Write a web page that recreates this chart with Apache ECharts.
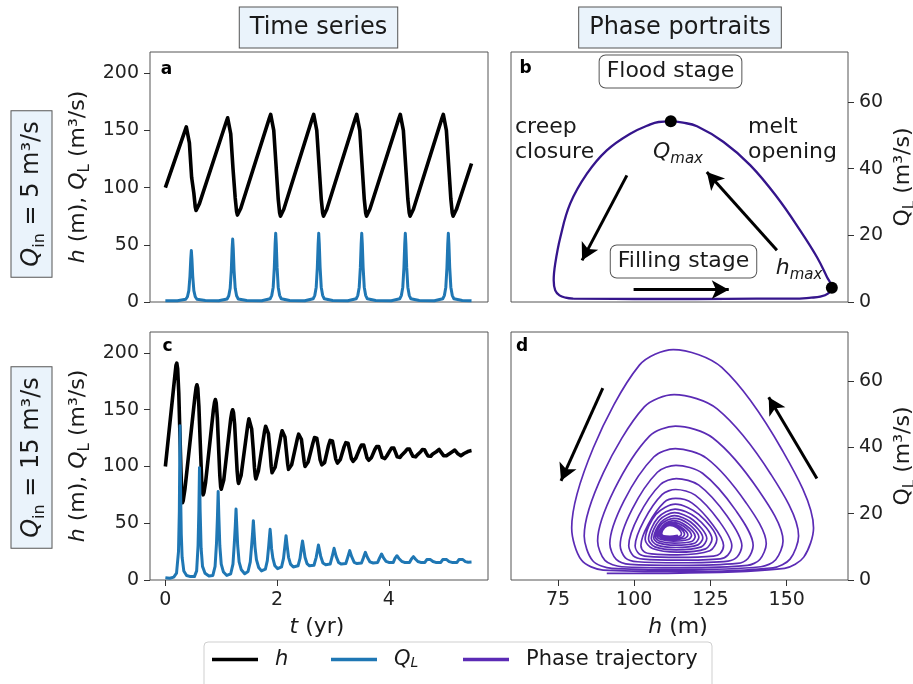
<!DOCTYPE html>
<html>
<head>
<meta charset="utf-8">
<title>Drainage cycles: time series and phase portraits</title>
<script src="https://cdn.jsdelivr.net/npm/echarts@6.0.0/dist/echarts.min.js"></script>
<style>
  html, body { margin: 0; padding: 0; background: #fff; }
  #chart { width: 913px; height: 684px; }
</style>
</head>
<body>
<div id="chart"></div>
<script>
// ---- values ----
// panel a: Q_in = 5 m3/s
var tAh = [0, 0.35, 0.375, 0.39, 0.405, 0.43, 0.47, 0.51, 0.535, 0.55, 0.57, 0.61,
  1.09, 1.115, 1.13, 1.145, 1.17, 1.21, 1.25, 1.275, 1.29, 1.31, 1.35,
  1.86, 1.885, 1.90, 1.915, 1.94, 1.98, 2.02, 2.045, 2.06, 2.08, 2.12,
  2.63, 2.655, 2.67, 2.685, 2.71, 2.75, 2.79, 2.815, 2.83, 2.85, 2.89,
  3.40, 3.425, 3.44, 3.455, 3.48, 3.52, 3.56, 3.585, 3.60, 3.62, 3.66,
  4.18, 4.205, 4.22, 4.235, 4.26, 4.30, 4.34, 4.365, 4.38, 4.40, 4.44,
  4.95, 4.975, 4.99, 5.005, 5.03, 5.07, 5.11, 5.135, 5.15, 5.17, 5.21, 5.48];
var hA = [100, 149.5, 153, 154, 151.5, 139, 109, 95, 83, 80, 81.5, 86,
  157.5, 161, 162, 159.5, 147, 117, 91, 79, 76, 77.5, 82,
  160.5, 164, 165, 162.5, 150, 120, 90, 78, 75, 76.5, 81,
  160.5, 164, 165, 162.5, 150, 120, 90, 78, 75, 76.5, 81,
  160.5, 164, 165, 162.5, 150, 120, 90, 78, 75, 76.5, 81,
  160.5, 164, 165, 162.5, 150, 120, 90, 78, 75, 76.5, 81,
  160.5, 164, 165, 162.5, 150, 120, 90, 78, 75, 76.5, 81, 121];
var tAq = [0, 0.215, 0.365, 0.395, 0.42, 0.44, 0.455, 0.465, 0.475, 0.49, 0.51, 0.535, 0.565, 0.715,
  0.955, 1.105, 1.135, 1.16, 1.18, 1.195, 1.205, 1.215, 1.23, 1.25, 1.275, 1.305, 1.455,
  1.725, 1.875, 1.905, 1.93, 1.95, 1.965, 1.975, 1.985, 2.00, 2.02, 2.045, 2.075, 2.225,
  2.495, 2.645, 2.675, 2.70, 2.72, 2.735, 2.745, 2.755, 2.77, 2.79, 2.815, 2.845, 2.995,
  3.265, 3.415, 3.445, 3.47, 3.49, 3.505, 3.515, 3.525, 3.54, 3.56, 3.585, 3.615, 3.765,
  4.045, 4.195, 4.225, 4.25, 4.27, 4.285, 4.295, 4.305, 4.32, 4.34, 4.365, 4.395, 4.545,
  4.815, 4.965, 4.995, 5.02, 5.04, 5.055, 5.065, 5.075, 5.09, 5.11, 5.135, 5.165, 5.315, 5.48];
var qA = [1.0, 1.1, 2.4, 4.6, 10, 22.5, 38, 45, 38, 22.5, 10, 4.6, 2.4, 1.3,
  1.1, 2.7, 5.4, 12, 27.5, 47, 55, 47, 27.5, 12, 5.4, 2.7, 1.3,
  1.1, 2.8, 5.8, 13, 30, 51, 60, 51, 30, 13, 5.8, 2.8, 1.3,
  1.1, 2.8, 5.8, 13, 30, 51, 60, 51, 30, 13, 5.8, 2.8, 1.3,
  1.1, 2.8, 5.8, 13, 30, 51, 60, 51, 30, 13, 5.8, 2.8, 1.3,
  1.1, 2.8, 5.8, 13, 30, 51, 60, 51, 30, 13, 5.8, 2.8, 1.3,
  1.1, 2.8, 5.8, 13, 30, 51, 60, 51, 30, 13, 5.8, 2.8, 1.3, 1.0];

// panel c: Q_in = 15 m3/s
var tCh = [0, 0.17, 0.19, 0.205, 0.22, 0.24, 0.26, 0.28, 0.295, 0.305, 0.32, 0.35,
  0.53, 0.55, 0.565, 0.58, 0.60, 0.625, 0.65, 0.665, 0.675, 0.69, 0.72,
  0.86, 0.88, 0.895, 0.91, 0.93, 0.955, 0.975, 0.99, 1.00, 1.015, 1.045,
  1.17, 1.19, 1.205, 1.22, 1.24, 1.265, 1.285, 1.30, 1.31, 1.325, 1.355,
  1.475, 1.495, 1.51, 1.525, 1.545, 1.575, 1.595, 1.61, 1.62, 1.635, 1.665,
  1.775, 1.795, 1.81, 1.825, 1.845, 1.875, 1.895, 1.91, 1.92, 1.935, 1.965,
  2.07, 2.09, 2.105, 2.12, 2.14, 2.165, 2.19, 2.205, 2.215, 2.23, 2.26,
  2.365, 2.385, 2.40, 2.415, 2.435, 2.46, 2.485, 2.50, 2.51, 2.525, 2.555,
  2.64, 2.67, 2.69, 2.71, 2.74, 2.77, 2.80, 2.82, 2.85,
  2.92, 2.95, 2.97, 2.99, 3.02, 3.05, 3.08, 3.10, 3.13,
  3.20, 3.23, 3.25, 3.27, 3.30, 3.33, 3.36, 3.38, 3.41,
  3.48, 3.51, 3.53, 3.55, 3.58, 3.61, 3.64, 3.66, 3.69,
  3.75, 3.78, 3.80, 3.82, 3.85, 3.88, 3.91, 3.93, 3.96,
  4.02, 4.05, 4.07, 4.09, 4.12, 4.15, 4.18, 4.20, 4.23,
  4.30, 4.33, 4.35, 4.37, 4.40, 4.43, 4.46, 4.48, 4.51,
  4.57, 4.60, 4.62, 4.64, 4.67, 4.70, 4.73, 4.75, 4.78,
  4.85, 4.88, 4.90, 4.92, 4.95, 4.98, 5.01, 5.03, 5.06,
  5.13, 5.16, 5.18, 5.20, 5.23, 5.26, 5.29, 5.31, 5.34, 5.38, 5.43, 5.48];
var hC = [100, 180, 189, 191, 186, 165, 130, 95, 74, 68, 70, 80,
  162, 169.5, 172, 169, 153, 120, 88, 77, 75, 77, 86,
  150, 156.5, 159, 156, 143, 114, 92, 82, 80, 81.5, 88,
  142, 148, 150, 147.5, 137, 114, 96, 87.5, 85, 86.5, 92,
  136.5, 142, 143.5, 141.5, 133, 114, 99, 91.5, 89, 90.5, 96,
  131, 135.5, 137, 135.5, 129, 113, 100, 94.5, 93, 94.5, 99.5,
  127.5, 131.5, 133, 131.5, 126, 114, 102, 97.5, 96, 97, 101.5,
  125, 128.5, 129.5, 128.5, 124, 114, 104, 100, 99, 100, 104,
  120.5, 125.5, 126.5, 125, 116.5, 106, 101.5, 101, 103.5,
  118.5, 123, 124, 122.5, 115, 106.5, 103, 103.5, 106,
  117.5, 121, 122, 120.5, 114, 107, 104.5, 105, 107.5,
  116, 119, 120, 119, 113.5, 107.5, 105.5, 106, 108,
  115, 117.5, 118.5, 117.5, 113, 108, 106.5, 107, 109,
  114, 116.3, 117, 116.2, 112.5, 108.5, 107.5, 108, 110,
  113.5, 115.4, 116, 115.3, 112, 109, 108, 108.5, 110.3,
  113, 115, 115.5, 114.8, 111.8, 109.3, 108.5, 109, 110.8,
  113, 114.5, 115, 114.3, 111.6, 109.6, 109, 109.5, 111,
  112.8, 114.1, 114.5, 113.9, 111.5, 110, 109.5, 110, 111.2, 112.3, 113.5, 114];
var tCq = [0, 0.08, 0.15, 0.20, 0.235, 0.25, 0.262, 0.272, 0.285, 0.30, 0.33, 0.38, 0.45,
  0.52, 0.56, 0.585, 0.60, 0.611, 0.622, 0.64, 0.665, 0.71, 0.78,
  0.85, 0.89, 0.915, 0.932, 0.945, 0.958, 0.975, 1.00, 1.04, 1.10,
  1.17, 1.21, 1.235, 1.252, 1.265, 1.278, 1.295, 1.32, 1.36, 1.42,
  1.48, 1.52, 1.545, 1.562, 1.575, 1.588, 1.605, 1.63, 1.67, 1.72,
  1.79, 1.825, 1.85, 1.863, 1.875, 1.887, 1.90, 1.925, 1.96, 2.01,
  2.08, 2.115, 2.14, 2.16, 2.18, 2.205, 2.24, 2.29,
  2.375, 2.41, 2.435, 2.455, 2.475, 2.50, 2.535, 2.58,
  2.66, 2.70, 2.74, 2.78, 2.82, 2.87,
  2.95, 2.985, 3.02, 3.055, 3.10, 3.15,
  3.23, 3.265, 3.30, 3.335, 3.38, 3.43,
  3.51, 3.545, 3.58, 3.615, 3.66, 3.72,
  3.80, 3.835, 3.87, 3.905, 3.95, 4.00,
  4.08, 4.11, 4.145, 4.18, 4.23, 4.28,
  4.37, 4.405, 4.44, 4.475, 4.52, 4.57,
  4.645, 4.68, 4.71, 4.745, 4.79, 4.84,
  4.93, 4.965, 5.00, 5.035, 5.08, 5.13,
  5.22, 5.255, 5.29, 5.325, 5.37, 5.42, 5.48];
var qC = [2, 1.5, 2.5, 6, 25, 60, 136, 80, 40, 20, 8, 4, 3,
  3, 8, 30, 62, 99, 62, 28, 12, 6, 3.5,
  4, 12, 32, 55, 78, 55, 30, 14, 7, 4,
  5.5, 14, 33, 48, 62.6, 48, 30, 16, 9, 5.5,
  7.5, 16, 31, 42, 52.3, 42, 29, 18, 11, 8,
  9.5, 17, 30, 38, 44.7, 38, 28, 19, 12.5, 10,
  11.5, 19, 30, 39, 30, 20, 14, 11.5,
  12.5, 19, 28, 34.4, 28, 20, 14.5, 12.5,
  13, 20, 30.9, 21, 15, 13.5,
  14, 20.5, 27.9, 21, 15.5, 14,
  14.5, 20, 25.9, 20.5, 15.5, 14.5,
  15, 19.5, 24.4, 20, 16, 15,
  15.5, 19.5, 22.9, 19.5, 16.5, 15.5,
  15.5, 19, 21.4, 19, 16.5, 15.5,
  15.5, 18.5, 20.6, 18.5, 16.3, 15.5,
  15.5, 18, 19.7, 18, 16.3, 15.5,
  15.5, 18, 19.1, 18, 16.2, 15.5,
  15.5, 18, 19.1, 18, 16.2, 15.6, 15.8];

// panel b: limit cycle (h, Q_L)
var bH = [80, 100, 120, 140, 152.3, 158, 161, 163.5, 164.8, 163.2, 159.9, 154.4, 146.8, 138.1, 129.3,
  120.6, 116, 112, 108, 105.3, 98.7, 91, 84.5, 79, 75.8, 74.1, 73.6, 74.1, 75.5, 77.5, 80];
var bQ = [1.0, 0.9, 0.9, 1.0, 1.0, 1.3, 1.6, 2.5, 4.3, 7.5, 13.5, 21.5, 31.5, 41, 48,
  52.7, 53.8, 54.2, 54, 53.3, 50.5, 45.5, 38.5, 29.5, 19.5, 11.5, 6.5, 3.5, 2, 1.3, 1.0];
var bDotH = [112, 164.8];   // Q_max, h_max
var bDotQ = [54.2, 4.3];
var arrowsB = [[[97.6, 38], [82.9, 12.5]], [[146.8, 15.5], [123.8, 39]], [[99.8, 3.7], [131, 3.7]]];

// panel d: damped spiral (h, Q_L)
var dH = [91,
  115, 149.3, 155.6, 158.8, 148.5, 128.7, 112.8, 101.7, 86.6, 79.5, 82.7, 89.8,
  115.2, 145.5, 151.1, 153.9, 144.8, 127.2, 113.1, 103.3, 89.9, 83.6, 86.4, 92.7,
  115.4, 141.5, 146.4, 148.8, 140.9, 125.7, 113.5, 105, 93.5, 88, 90.4, 95.9,
  115.1, 137.1, 141.2, 143.3, 136.6, 123.8, 113.5, 106.4, 96.6, 92, 94.1, 98.7,
  115, 133.8, 137.3, 139, 133.3, 122.4, 113.7, 107.6, 99.3, 95.4, 97.1, 101.1,
  114.9, 130.8, 133.8, 135.3, 130.5, 121.2, 113.8, 108.6, 101.5, 98.2, 99.7, 103,
  114.6, 128.2, 130.7, 132, 127.9, 120, 113.6, 109.2, 103.2, 100.3, 101.6, 104.4,
  114.4, 126, 128.2, 129.3, 125.8, 119, 113.6, 109.8, 104.6, 102.2, 103.3, 105.7,
  114.2, 124.8, 127.1, 121.2, 113.5, 107.1, 103.6, 106,
  114.1, 123.4, 125.5, 120.3, 113.4, 107.8, 104.7, 106.8,
  113.8, 122, 123.8, 119.3, 113.2, 108.3, 105.6, 107.4,
  113.6, 120.9, 122.5, 118.5, 113.2, 108.8, 106.4, 108,
  113.4, 119.8, 121.2, 117.7, 113, 109.1, 107, 108.4,
  113.2, 118.8, 120, 116.9, 112.8, 109.5, 107.6, 108.8,
  112.9, 117.7, 118.8, 116.1, 112.6, 109.7, 108.1, 109.2,
  112.6, 116.7, 117.6, 115.3, 112.3, 109.9, 108.5, 109.4,
  112.3, 115.7, 116.5, 114.6, 112, 110, 108.8, 109.6,
  111.9, 114.9, 115.5, 113.9, 111.7, 110, 109, 109.7, 111.7, 114.3];
var dQ = [2.0,
  2.1, 3.5, 6.9, 15.7, 39.2, 64.1, 69.5, 64.8, 39.9, 15.7, 6.0, 3.0,
  2.6, 3.7, 6.3, 13.3, 31.9, 51.6, 55.9, 52.2, 32.4, 13.3, 5.8, 3.5,
  3.1, 4.0, 6.1, 11.8, 26.9, 42.9, 46.4, 43.4, 27.3, 11.8, 5.9, 4.0,
  3.7, 4.4, 6.2, 10.9, 23.4, 36.7, 39.6, 37.1, 23.8, 10.9, 6.2, 4.7,
  4.4, 5.0, 6.5, 10.4, 21, 32.2, 34.6, 32.5, 21.3, 10.4, 6.7, 5.5,
  5.2, 5.7, 7.0, 10.3, 19.2, 28.6, 30.6, 28.8, 19.4, 10.3, 7.3, 6.3,
  6.0, 6.4, 7.5, 10.3, 17.7, 25.6, 27.3, 25.8, 17.9, 10.3, 7.9, 7.1,
  6.8, 7.2, 8.0, 10.4, 16.6, 23.2, 24.6, 23.4, 16.8, 10.4, 8.5, 7.9,
  7.6, 8.8, 12.2, 19.8, 22.9, 19.8, 12.2, 9.5,
  8.4, 9.4, 12.3, 18.8, 21.4, 18.8, 12.3, 10.0,
  9.1, 10.0, 12.5, 18.1, 20.3, 18.1, 12.5, 10.6,
  9.8, 10.6, 12.7, 17.5, 19.4, 17.5, 12.7, 11.2,
  10.5, 11.1, 12.9, 17, 18.6, 17, 12.9, 11.7,
  11.1, 11.6, 13.1, 16.5, 17.9, 16.5, 13.1, 12.2,
  11.7, 12.2, 13.4, 16.3, 17.4, 16.3, 13.4, 12.6,
  12.2, 12.6, 13.6, 16, 17, 16, 13.6, 12.9,
  12.6, 12.9, 13.8, 15.9, 16.7, 15.9, 13.8, 13.2,
  12.9, 13.2, 14.0, 15.8, 16.5, 15.8, 14, 13.3, 13.2, 13.5];
var arrowsD = [[[89.7, 57.9], [76, 29.9]], [[159.9, 30.6], [144.1, 55.1]]];

// axis ticks
var timeTicks = [0, 2, 4];
var levelTicks = [0, 50, 100, 150, 200];
var hTicks = [75, 100, 125, 150];
var qTicks = [0, 20, 40, 60];

// ---- drawing ----
var FONT = 'DejaVu Sans';
var INK = '#1a1a1a';
var BLUE = '#1f77b4';
var PURPLE = '#5b2bb5';

function pairs(xs, ys) {
  return xs.map(function (x, i) { return [x, ys[i]]; });
}

function rich(size) {
  var lh = size + 8;
  var sub = Math.round(size * 0.68);
  return {
    n: { fontFamily: FONT, fontSize: size, lineHeight: lh, color: INK },
    i: { fontFamily: FONT, fontSize: size, lineHeight: lh, color: INK, fontStyle: 'italic' },
    s: { fontFamily: FONT, fontSize: sub, lineHeight: sub, color: INK, verticalAlign: 'bottom' },
    si: { fontFamily: FONT, fontSize: sub, lineHeight: sub, color: INK, verticalAlign: 'bottom', fontStyle: 'italic' }
  };
}

function axis(grid, min, max, ticks, position) {
  var on = ticks.length > 0;
  return {
    type: 'value', gridIndex: grid, min: min, max: max, position: position,
    axisLine: { show: false, onZero: false },
    splitLine: { show: false },
    axisTick: { show: on, customValues: ticks, length: 6, lineStyle: { color: '#333', width: 1 } },
    axisLabel: { show: on, customValues: ticks, fontFamily: FONT, fontSize: 19, color: '#222', margin: 11 }
  };
}

function label(x, y, text, size, extra) {
  var el = {
    type: 'text', x: x, y: y, z: 20,
    style: { text: text, rich: rich(size), align: 'center', verticalAlign: 'middle',
      fontFamily: FONT, fontSize: size, fill: INK }
  };
  if (extra) {
    if (extra.rotation) el.rotation = extra.rotation;
    for (var k in extra.style || {}) el.style[k] = extra.style[k];
  }
  return el;
}

function letter(x, y, ch) {
  return { type: 'text', x: x, y: y, z: 20, style: { text: ch, fontFamily: FONT, fontWeight: 'bold',
    fontSize: 17, fill: '#000', align: 'center', verticalAlign: 'middle' } };
}

var headBox = { backgroundColor: '#eaf3fb', borderColor: '#555', borderWidth: 1, padding: [4, 10] };
var stageBox = { backgroundColor: '#fff', borderColor: '#555', borderWidth: 1, borderRadius: 6, padding: [1, 7] };
var UP = Math.PI / 2;

function legendAt(left, name, fmt) {
  return {
    left: left, top: 649, padding: 0, icon: 'rect', itemWidth: 46, itemHeight: 3.5,
    selectedMode: false, data: [name],
    formatter: function () { return fmt; },
    textStyle: { fontFamily: FONT, fontSize: 21, color: INK, rich: {
      i: { fontFamily: FONT, fontSize: 21, fontStyle: 'italic', color: INK, padding: [0, 0, 0, 12] },
      si: { fontFamily: FONT, fontSize: 14, fontStyle: 'italic', color: INK, verticalAlign: 'bottom', lineHeight: 14 },
      p: { fontFamily: FONT, fontSize: 21, color: INK, padding: [0, 0, 0, 12] }
    } }
  };
}

var arrowLine = {
  silent: true, symbol: ['none', 'arrow'], symbolSize: [14, 17],
  lineStyle: { color: '#000', width: 3, type: 'solid' },
  label: { show: false }, emphasis: { disabled: true }
};

var chart = echarts.init(document.getElementById('chart'));
chart.setOption({
  animation: false,
  backgroundColor: '#fff',
  grid: [
    { left: 150, top: 52, width: 338, height: 250 },
    { left: 511, top: 52, width: 337, height: 250 },
    { left: 150, top: 332, width: 338, height: 248 },
    { left: 511, top: 332, width: 337, height: 248 }
  ].map(function (g) {
    g.show = true; g.borderColor = '#555'; g.borderWidth = 1; g.backgroundColor = '#fff';
    g.outerBoundsMode = 'none';
    return g;
  }),
  xAxis: [
    axis(0, -0.275, 5.775, [], 'bottom'),
    axis(1, 59.6, 170.1, [], 'bottom'),
    axis(2, -0.275, 5.775, timeTicks, 'bottom'),
    axis(3, 59.6, 170.1, hTicks, 'bottom')
  ],
  yAxis: [
    axis(0, 0, 218.5, levelTicks, 'left'),
    axis(1, 0, 75, qTicks, 'right'),
    axis(2, 0, 218.5, levelTicks, 'left'),
    axis(3, 0, 74.8, qTicks, 'right')
  ],
  legend: [
    legendAt(212, 'h', '{i|h}'),
    legendAt(331, 'Q_L', '{i|Q}{si|L}'),
    legendAt(463, 'Phase trajectory', '{p|Phase trajectory}')
  ],
  series: [
    { name: 'h', type: 'line', xAxisIndex: 0, yAxisIndex: 0, data: pairs(tAh, hA),
      showSymbol: false, color: '#000', lineStyle: { width: 3.6, join: 'round' } },
    { name: 'Q_L', type: 'line', xAxisIndex: 0, yAxisIndex: 0, data: pairs(tAq, qA),
      showSymbol: false, color: BLUE, lineStyle: { width: 3, join: 'round' } },
    { name: 'h', type: 'line', xAxisIndex: 2, yAxisIndex: 2, data: pairs(tCh, hC),
      showSymbol: false, color: '#000', lineStyle: { width: 3.6, join: 'round' } },
    { name: 'Q_L', type: 'line', xAxisIndex: 2, yAxisIndex: 2, data: pairs(tCq, qC),
      showSymbol: false, color: BLUE, lineStyle: { width: 3, join: 'round' } },
    { name: 'Phase trajectory', type: 'line', xAxisIndex: 3, yAxisIndex: 3, data: pairs(dH, dQ),
      showSymbol: false, smooth: 0.3, color: PURPLE, lineStyle: { width: 1.7 },
      markLine: Object.assign({ data: arrowsD.map(function (a) { return [{ coord: a[0] }, { coord: a[1] }]; }) }, arrowLine) },
    { name: 'Phase trajectory', type: 'line', xAxisIndex: 1, yAxisIndex: 1, data: pairs(bH, bQ),
      showSymbol: false, smooth: 0.4, color: '#35158c', lineStyle: { width: 2.3 },
      markLine: Object.assign({ data: arrowsB.map(function (a) { return [{ coord: a[0] }, { coord: a[1] }]; }) }, arrowLine) },
    { name: 'extrema', type: 'scatter', xAxisIndex: 1, yAxisIndex: 1, data: pairs(bDotH, bDotQ),
      symbolSize: 12, itemStyle: { color: '#000', opacity: 1 }, z: 5 }
  ],
  graphic: [
    // column headers and row labels
    label(318.5, 27.5, '{n|Time series}', 24, { style: headBox }),
    label(680, 27.5, '{n|Phase portraits}', 24, { style: headBox }),
    label(31.5, 194, '{i|Q}{s|in}{n| = 5 m³/s}', 24, { rotation: UP, style: headBox }),
    label(31.5, 457.5, '{i|Q}{s|in}{n| = 15 m³/s}', 24, { rotation: UP, style: headBox }),
    // axis titles
    label(78, 177, '{i|h}{n| (m), }{i|Q}{s|L}{n| (m³/s)}', 22, { rotation: UP }),
    label(78, 456, '{i|h}{n| (m), }{i|Q}{s|L}{n| (m³/s)}', 22, { rotation: UP }),
    label(903, 177, '{n|Q}{s|L}{n| (m³/s)}', 22, { rotation: UP }),
    label(903, 456, '{n|Q}{s|L}{n| (m³/s)}', 22, { rotation: UP }),
    label(317, 627, '{i|t}{n| (yr)}', 22),
    label(678, 627, '{i|h}{n| (m)}', 22),
    // panel letters
    letter(166.5, 70, 'a'), letter(525.5, 69, 'b'), letter(167.5, 347, 'c'), letter(522, 347, 'd'),
    // annotations of panel b
    label(670.5, 71.5, '{n|Flood stage}', 22, { style: stageBox }),
    label(683.5, 261.5, '{n|Filling stage}', 22, { style: stageBox }),
    label(678, 152, '{i|Q}{si|max}', 22),
    label(799, 268, '{i|h}{si|max}', 22),
    { type: 'text', x: 515, y: 140, z: 20, style: { text: 'creep\nclosure', fontFamily: FONT, fontSize: 22, lineHeight: 25, fill: INK, align: 'left', verticalAlign: 'middle' } },
    { type: 'text', x: 748, y: 140, z: 20, style: { text: 'melt\nopening', fontFamily: FONT, fontSize: 22, lineHeight: 25, fill: INK, align: 'left', verticalAlign: 'middle' } },
    // legend frame
    { type: 'rect', z: 1, shape: { x: 204, y: 642, width: 508, height: 60, r: 4 }, style: { fill: '#fff', stroke: '#cfcfcf', lineWidth: 1 } }
  ]
});
</script>
</body>
</html>
